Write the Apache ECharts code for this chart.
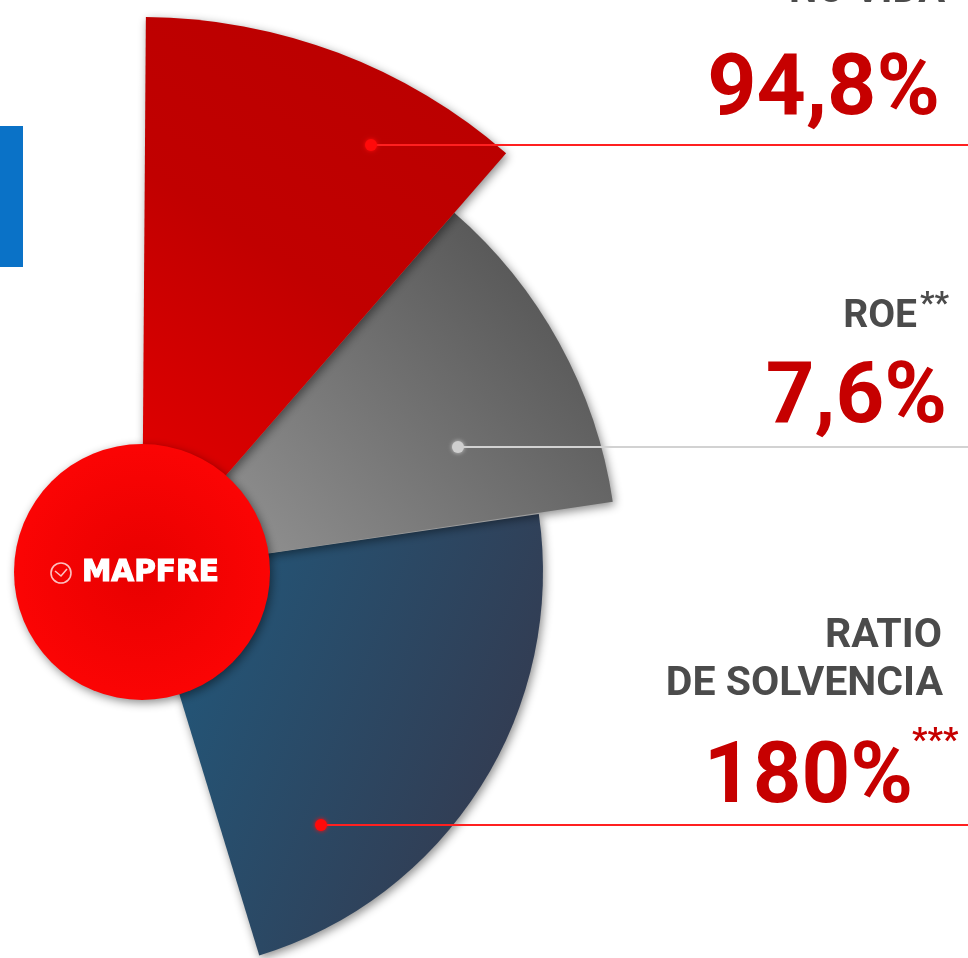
<!DOCTYPE html>
<html>
<head>
<meta charset="utf-8">
<script src="https://cdn.jsdelivr.net/npm/echarts@6/dist/echarts.min.js"></script>
<style>
  html, body { margin: 0; padding: 0; background: #ffffff; }
  #chart { width: 968px; height: 958px; }
</style>
</head>
<body>
<div id="chart"></div>
<script>
// ---- data ----
const categories = ['RATIO COMBINADO NO VIDA', 'ROE', 'RATIO DE SOLVENCIA'];
const labelLines = [['RATIO COMBINADO', 'NO VIDA'], ['ROE'], ['RATIO', 'DE SOLVENCIA']];
const values = [94.8, 7.6, 180];
const valueLabels = ['94,8%', '7,6%', '180%'];
const footnoteMarks = ['*', '**', '***'];
const sectorDegrees = [40.6, 40.5, 81.3];   // angular size of each decorative sector
const logoText = 'MAPFRE';

// ---- layout / style (not data) ----
const CX = 142, CY = 572;
const sectorRadius = [555, 476, 401];
const sectorStart = [89.6, 49.0, 8.3];
const sectorZ = [6, 4, 2];
const sectorFill = [
  new echarts.graphic.LinearGradient(420, 80, 140, 500, [
    { offset: 0, color: '#bb0000' }, { offset: 0.45, color: '#c10000' }, { offset: 1, color: '#e30000' }], true),
  new echarts.graphic.LinearGradient(580, 260, 270, 550, [
    { offset: 0, color: '#525252' }, { offset: 1, color: '#8d8d8d' }], true),
  new echarts.graphic.LinearGradient(190, 640, 540, 780, [
    { offset: 0, color: '#235577' }, { offset: 1, color: '#343a4f' }], true)
];
const RED_TXT = '#c60000';
const GREY_TXT = '#4b4b4b';

const chart = echarts.init(document.getElementById('chart'), null, { renderer: 'canvas' });

const series = values.map((v, i) => ({
  type: 'pie',
  name: categories[i],
  center: [CX, CY],
  radius: [0, sectorRadius[i]],
  startAngle: sectorStart[i],
  clockwise: true,
  silent: true,
  z: sectorZ[i],
  label: { show: false },
  labelLine: { show: false },
  emphasis: { disabled: true },
  data: [
    { name: categories[i], value: sectorDegrees[i],
      itemStyle: { color: sectorFill[i], shadowBlur: 10, shadowColor: 'rgba(0,0,0,0.45)', shadowOffsetX: 2, shadowOffsetY: 3 } },
    { name: '', value: 360 - sectorDegrees[i], itemStyle: { color: 'rgba(0,0,0,0)' } }
  ]
}));

function txt(text, x, baseline, fs, color, align) {
  return {
    type: 'text', z: 200,
    style: {
      text: text, x: x, y: baseline + 3 - 0.3 * fs,
      fill: color, font: 'bold ' + fs + 'px Roboto',
      textAlign: align || 'right', textVerticalAlign: 'middle', verticalAlign: 'middle'
    }
  };
}

const dotStyle = [
  { dx: 371, y: 145, dot: '#ff0a0a', line: '#ff2020' },
  { dx: 458, y: 447, dot: '#cfcfcf', line: '#d2d2d2' },
  { dx: 321, y: 825, dot: '#ff0a0a', line: '#ff2020' }
];

const graphics = [];
// blue tab on left
graphics.push({ type: 'rect', z: 1, shape: { x: 0, y: 126, width: 23, height: 141 }, style: { fill: '#0a72c7' } });

// connector lines + dots
dotStyle.forEach(d => {
  graphics.push({ type: 'line', z: 150, shape: { x1: d.dx, y1: d.y, x2: 968, y2: d.y }, style: { stroke: d.line, lineWidth: 2 } });
  graphics.push({ type: 'circle', z: 151, shape: { cx: d.dx, cy: d.y, r: 6 }, style: { fill: d.dot, shadowBlur: 4, shadowColor: d.dot } });
});

// central logo circle
graphics.push({
  type: 'circle', z: 120, shape: { cx: CX, cy: CY, r: 128 },
  style: {
    fill: new echarts.graphic.RadialGradient(0.5, 0.5, 0.6, [
      { offset: 0, color: '#e80000' }, { offset: 1, color: '#ff0505' }]),
    shadowBlur: 10, shadowColor: 'rgba(0,0,0,0.45)', shadowOffsetX: 2, shadowOffsetY: 3
  }
});
graphics.push({ type: 'circle', z: 125, shape: { cx: 61, cy: 573, r: 10 }, style: { fill: 'none', stroke: 'rgba(255,255,255,0.75)', lineWidth: 1.6 } });
graphics.push({ type: 'polyline', z: 125, shape: { points: [[55, 571], [61, 576], [67, 569]] }, style: { fill: 'none', stroke: 'rgba(255,255,255,0.75)', lineWidth: 1.6 } });
graphics.push({ type: 'text', z: 125, style: { text: logoText, x: 82, y: 573, fill: '#ffffff', stroke: '#ffffff', lineWidth: 1.2, font: 'bold 29.5px "DejaVu Sans"', textAlign: 'left', verticalAlign: 'middle', textVerticalAlign: 'middle' } });

// labels
graphics.push(txt(labelLines[0][0], 945, -47, 40, GREY_TXT));
graphics.push(txt(labelLines[0][1], 945, 1, 40, GREY_TXT));
graphics.push(txt(valueLabels[0], 940, 115, 86, RED_TXT));
graphics.push(txt(footnoteMarks[0], 946, -21, 32, GREY_TXT, 'left'));

graphics.push(txt(labelLines[1][0], 917, 326, 39, GREY_TXT));
graphics.push(txt(footnoteMarks[1], 920, 312, 32, GREY_TXT, 'left'));
graphics.push(txt(valueLabels[1], 947, 423, 85, RED_TXT));

graphics.push(txt(labelLines[2][0], 942, 646, 41, GREY_TXT));
graphics.push(txt(labelLines[2][1], 943, 694, 41, GREY_TXT));
graphics.push(txt(valueLabels[2], 913, 803, 85, RED_TXT));
graphics.push(txt(footnoteMarks[2], 912, 750, 34, RED_TXT, 'left'));

chart.setOption({
  backgroundColor: '#ffffff',
  animation: false,
  series: series,
  graphic: { elements: graphics }
});
</script>
</body>
</html>
